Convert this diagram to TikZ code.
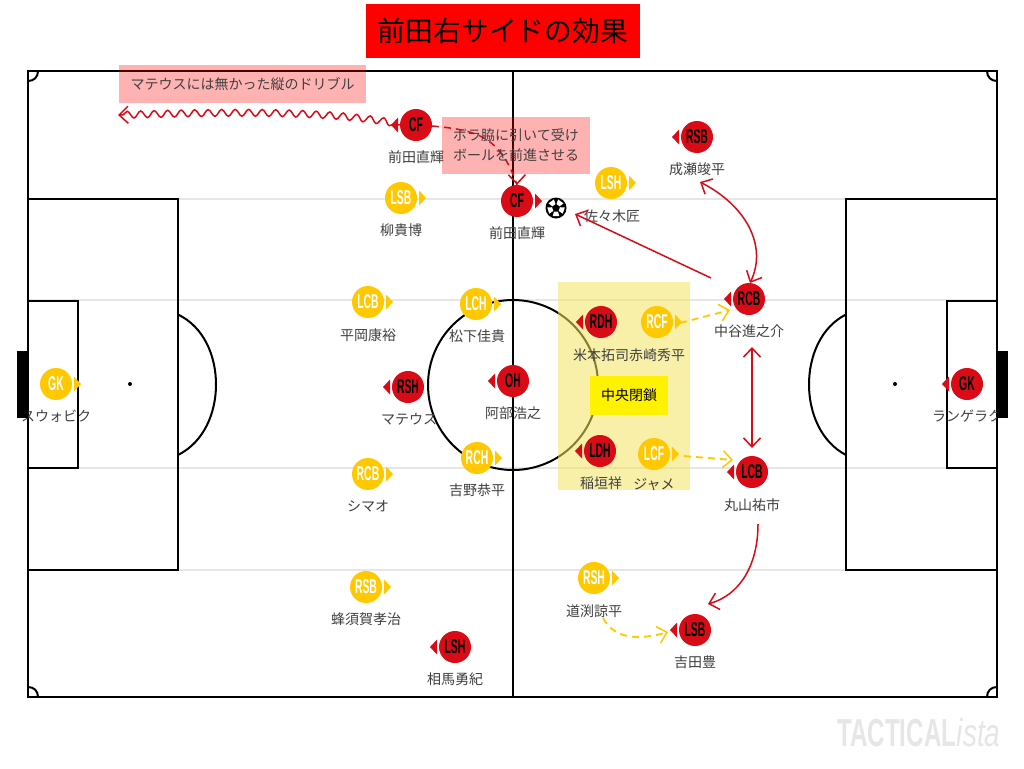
\documentclass[tikz,border=0pt]{standalone}
\usepackage{fontspec}
\usepackage{graphicx}
\setmainfont{Liberation Sans}
\newfontfamily\jpf{Noto Sans CJK JP}
\usetikzlibrary{arrows.meta,decorations.pathmorphing,calc}
\definecolor{pyel}{HTML}{FFC800}
\definecolor{pred}{HTML}{D90B17}
\definecolor{txt}{HTML}{404040}
\definecolor{grl}{HTML}{E6E6E6}
\definecolor{zone}{HTML}{F4E461}
\tikzset{
  x=1pt,y=-1pt,
  pline/.style={line width=2pt,black},
  gline/.style={line width=2pt,grl},
  redp/.style={circle,fill=pred,minimum size=32pt,inner sep=0pt,text=black},
  yelp/.style={circle,fill=pyel,minimum size=32pt,inner sep=0pt,text=white},
  plabel/.style={inner sep=0pt,text=txt,font=\jpf\fontsize{14}{14}\selectfont},
  pinkbox/.style={fill=red,fill opacity=.3,text opacity=1,inner sep=0pt,text=txt,font=\jpf\fontsize{14}{20}\selectfont,align=center},
  barb/.tip={Straight Barb[length=9pt,width=17pt,line width=1.5pt]},
  redarrow/.style={line width=1.5pt,pred},
  yelarrow/.style={line width=1.8pt,pyel,dash pattern=on 7pt off 5pt},
}
% id, x, y, text, style, dir(+1 right, -1 left), label, label x, label y
\newcommand{\player}[9]{%
  \node[#5] (#1) at (#2,#3) {\scalebox{.52}[1]{\bfseries\fontsize{20}{20}\selectfont #4}};
  \fill[#5/tri] ($(#1.center)+(#6*18,-7.5)$) -- ($(#1.center)+(#6*25,0)$) -- ($(#1.center)+(#6*18,7.5)$) -- cycle;
  \node[plabel] (#1-l) at (#8,#9) {#7};
}
\tikzset{redp/tri/.style={fill=pred},yelp/tri/.style={fill=pyel}}
\begin{document}
\begin{tikzpicture}
\useasboundingbox (0,0) rectangle (1024,768);
\fill[white] (0,0) rectangle (1024,768);
% grey lines
\foreach \yy in {199,300,468,570} \draw[gline] (28,\yy) -- (997,\yy);
% pitch
\draw[pline] (28,71) rectangle (997,697);
\draw[pline] (513,71) -- (513,697);
\draw[pline] (513,385) circle (85);
\draw[pline] (28,199) rectangle (178,570);
\draw[pline] (28,301) rectangle (78,468);
\draw[pline] (846,199) rectangle (997,570);
\draw[pline] (947,301) rectangle (997,468);
\draw[pline] (178,314.5) .. controls (204,327) and (216,356) .. (216,384.5) .. controls (216,413) and (204,442) .. (178,455);
\draw[pline] (846,314.5) .. controls (821,327) and (809,356) .. (809,384.5) .. controls (809,413) and (821,442) .. (846,455);
\fill (130,384) circle (2);
\fill (895,384) circle (2);
\draw[pline] (28,81) .. controls (34,81) and (38,77) .. (38,71);
\draw[pline] (987,71) .. controls (987,77) and (991,81) .. (997,81);
\draw[pline] (28,687) .. controls (34,687) and (38,691) .. (38,697);
\draw[pline] (987,697) .. controls (987,691) and (991,687) .. (997,687);
% central zone
\fill[zone,opacity=.55] (558,282) rectangle (690,490);
% players
\player{cfa}{416}{125}{CF}{redp}{-1}{前田直輝}{416}{157}
\player{cfb}{517}{201}{CF}{redp}{1}{前田直輝}{517}{233}
\player{rsbr}{697}{137}{RSB}{redp}{-1}{成瀬竣平}{697}{169}
\player{rcbr}{749}{299}{RCB}{redp}{-1}{中谷進之介}{749}{331}
\player{rdh}{601}{322}{RDH}{redp}{-1}{米本拓司}{601}{355}
\player{oh}{513}{381}{OH}{redp}{-1}{阿部浩之}{513}{413}
\player{rshr}{408}{387}{RSH}{redp}{-1}{マテウス}{409}{419}
\player{ldh}{600}{451}{LDH}{redp}{-1}{稲垣祥}{601}{483}
\player{lcbr}{752}{472}{LCB}{redp}{-1}{丸山祐市}{752}{505}
\player{lshr}{455}{647}{LSH}{redp}{-1}{相馬勇紀}{455}{679}
\player{lsbr}{695}{630}{LSB}{redp}{-1}{吉田豊}{695}{662}
\player{gkr}{967}{384}{GK}{redp}{-1}{ランゲラク}{967}{416}
\player{gky}{56}{384}{GK}{yelp}{1}{スウォビク}{56}{416}
\player{lsby}{401}{198}{LSB}{yelp}{1}{柳貴博}{401}{230}
\player{lcby}{368}{302}{LCB}{yelp}{1}{平岡康裕}{368}{335}
\player{lch}{476}{304}{LCH}{yelp}{1}{松下佳貴}{477}{336}
\player{rcf}{657}{322}{RCF}{yelp}{1}{赤崎秀平}{657}{355}
\player{lcf}{654}{454}{LCF}{yelp}{1}{ジャメ}{654}{485}
\player{rch}{477}{458}{RCH}{yelp}{1}{吉野恭平}{477}{490}
\player{rcby}{368}{474}{RCB}{yelp}{1}{シマオ}{368}{506}
\player{rsby}{366}{587}{RSB}{yelp}{1}{蜂須賀孝治}{366}{619}
\player{rshy}{594}{578}{RSH}{yelp}{1}{道渕諒平}{594}{611}
\player{lshy}{611}{183}{LSH}{yelp}{1}{佐々木匠}{612}{216}
% goals
\fill (17,351) rectangle (28,418);
\fill (997,351) rectangle (1008,418);
% ball
\node[circle,fill=black,minimum size=21pt,inner sep=0pt] (ball) at (556,208) {};
\foreach \a in {18,90,162,234,306}
  \fill[white] ($(ball.center)+(\a-29:4)$) -- ($(ball.center)+(\a+29:4)$) -- ($(ball.center)+(\a+22:8.8)$) -- ($(ball.center)+(\a-22:8.8)$) -- cycle;
% connector free ends
\coordinate (wv) at (118,115);
\coordinate (b1) at (575,214);
\coordinate (b1s) at (711,278);
\coordinate (rs) at (700,182);
\coordinate (rct) at (750,283);
\coordinate (dbl1) at (752,347);
\coordinate (dbl2) at (752,448);
\coordinate (lc1) at (758,524);
\coordinate (lc2) at (708,604);
\coordinate (ry1) at (680,323);
\coordinate (ry2) at (730,310);
\coordinate (ly1) at (684,456);
\coordinate (ly2) at (733,460);
\coordinate (sy1) at (603,618);
\coordinate (sy2) at (668,632);
\coordinate (cfs) at (432,126);
% connectors
\draw[redarrow,{barb}-,decorate,decoration={snake,amplitude=3.4pt,segment length=13.5pt,pre length=5pt,post length=2pt}] (wv) .. controls (230,112) and (330,110) .. (cfa.west);
\draw[redarrow,dash pattern=on 7pt off 5pt] (cfs) .. controls (475,130) and (500,135) .. (cfb.north);
\draw[redarrow,-{barb}] (cfb.north)+(-0.01,-1) -- (cfb.north);
\draw[redarrow,-{barb}] (b1s) -- (b1);
\draw[redarrow,{barb}-{barb}] (rs) .. controls (745,205) and (768,245) .. (rct);
\draw[redarrow,{barb}-{barb}] (dbl1) -- (dbl2);
\draw[redarrow,-{barb}] (lc1) .. controls (758,565) and (740,595) .. (lc2);
\draw[yelarrow,-{barb}] (ry1) -- (ry2);
\draw[yelarrow,-{barb}] (ly1) -- (ly2);
\draw[yelarrow,-{barb}] (sy1) .. controls (615,640) and (640,640) .. (sy2);
% boxes
\node[fill=red,minimum width=274pt,minimum height=54pt,inner sep=0pt,text=black,font=\jpf\fontsize{27.8}{30}\selectfont] (title) at (503,31) {前田右サイドの効果};
\node[pinkbox,minimum width=247pt,minimum height=38pt] (p1) at (242.5,84) {マテウスには無かった縦のドリブル};
\node[pinkbox,minimum width=148pt,minimum height=57pt] (p2) at (516,145.5) {ボラ脇に引いて受け\\ボールを前進させる};
\node[fill=yellow,minimum width=78pt,minimum height=39pt,inner sep=0pt,text=black,font=\jpf\fontsize{14}{14}\selectfont] (cz) at (629,395.5) {中央閉鎖};
% watermark
\node[inner sep=0pt,anchor=west,text=grl] (wm) at (837,733) {\scalebox{.62}[1]{\bfseries\fontsize{39}{39}\selectfont TACTICAL}\hspace{.5pt}\scalebox{.72}[1]{\itshape\fontsize{39}{39}\selectfont ista}};
\end{tikzpicture}
\end{document}
